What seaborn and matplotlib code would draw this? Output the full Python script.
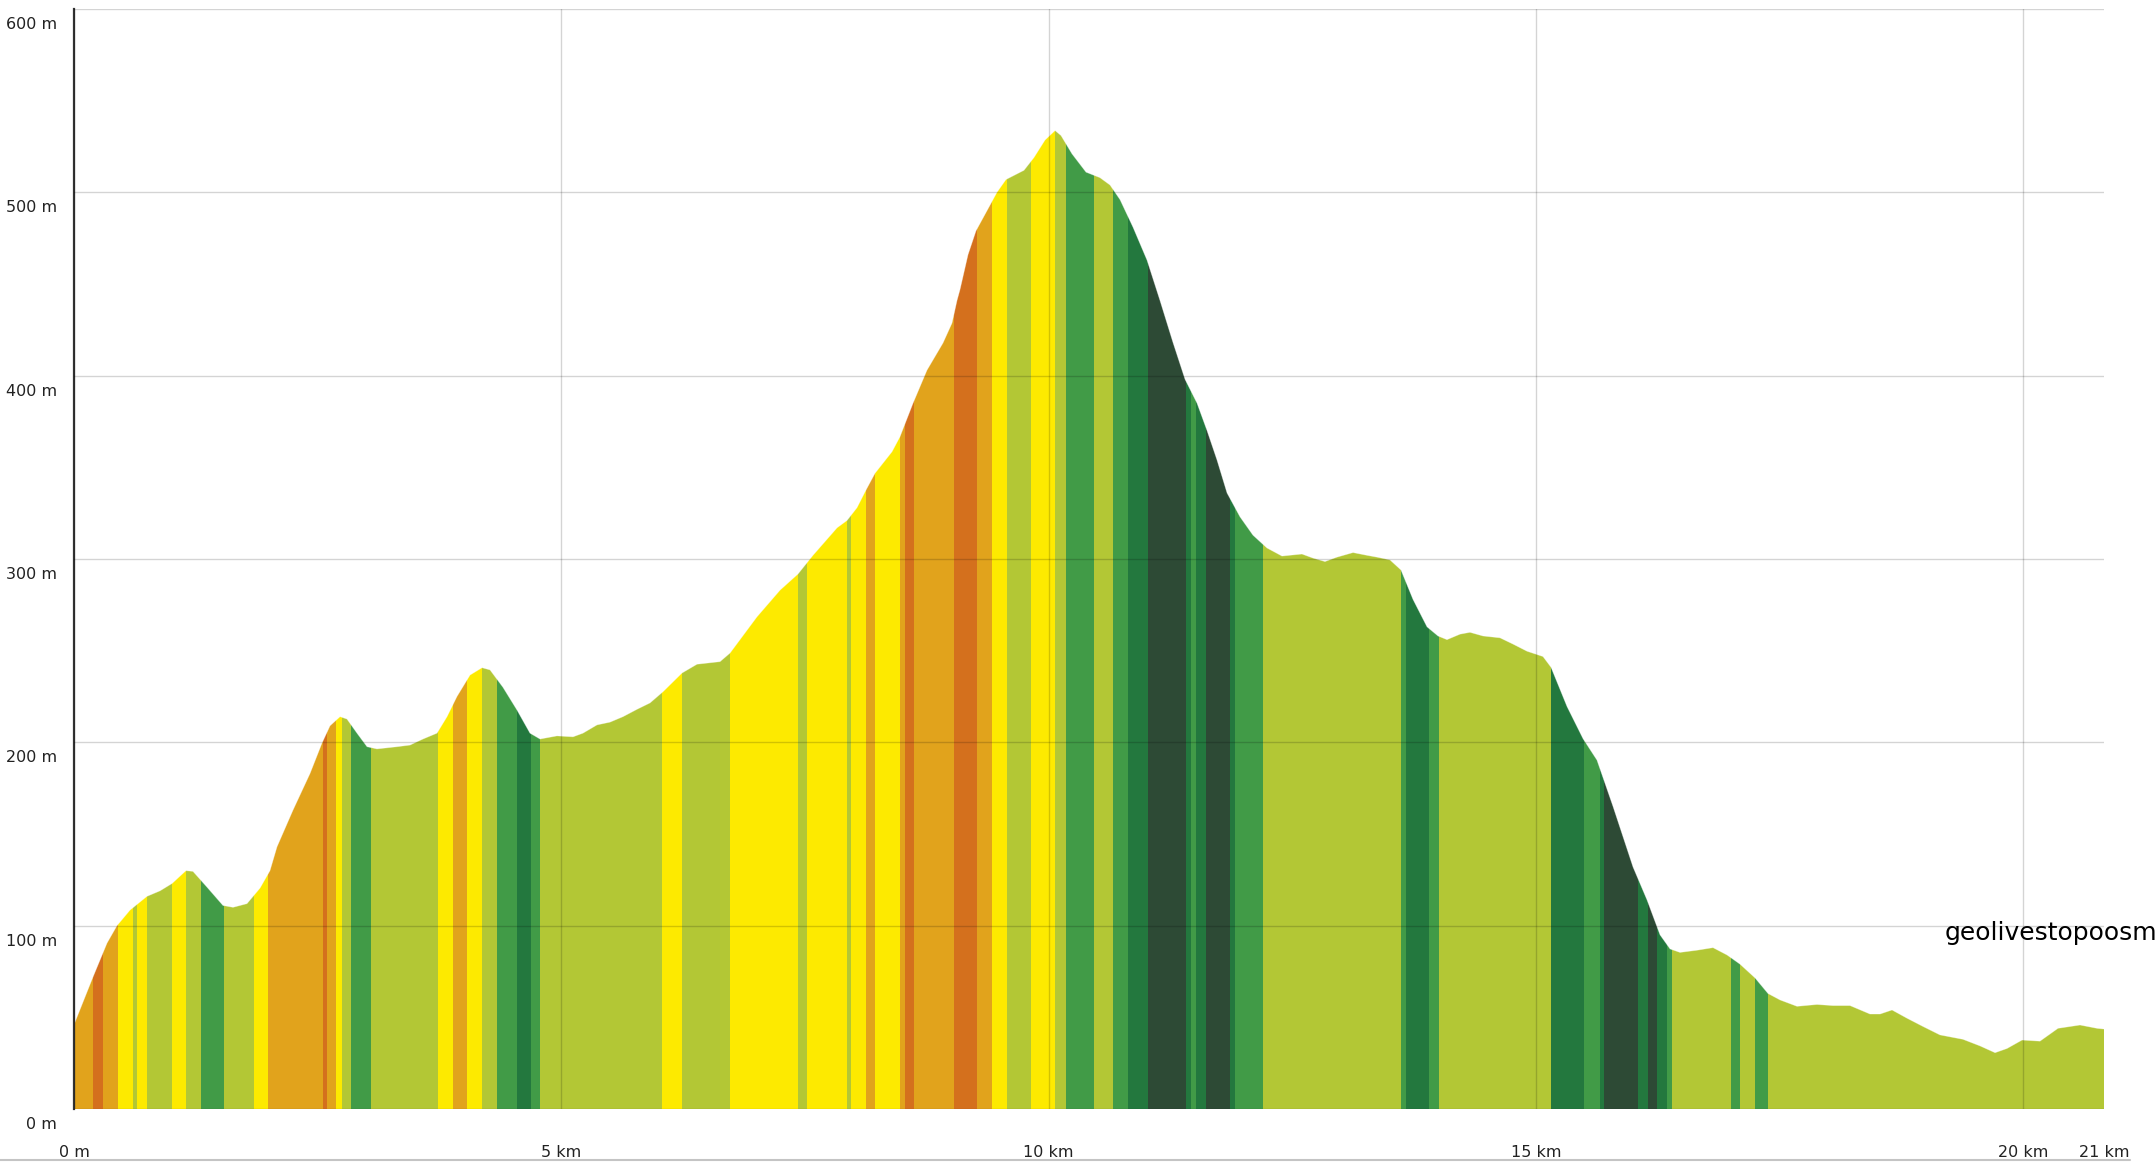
import matplotlib
matplotlib.use("Agg")
import matplotlib.pyplot as plt
from matplotlib.lines import Line2D
from matplotlib.transforms import ScaledTranslation
import seaborn as sns
import pandas as pd

# elevation profile (km, m)
dist_km = [0.00, 0.195, 0.339, 0.441, 0.575, 0.749, 0.883, 1.006, 1.149, 1.221,
           1.365, 1.529, 1.632, 1.775, 1.909, 2.011, 2.083, 2.247, 2.422, 2.545,
           2.627, 2.730, 2.801, 2.904, 3.007, 3.109, 3.315, 3.448, 3.581, 3.725,
           3.828, 3.930, 4.064, 4.187, 4.269, 4.402, 4.546, 4.679, 4.782, 4.956,
           5.121, 5.223, 5.367, 5.500, 5.634, 5.777, 5.911, 6.044, 6.239, 6.393,
           6.629, 6.732, 7.009, 7.245, 7.429, 7.583, 7.830, 7.932, 8.035, 8.127,
           8.220, 8.394, 8.476, 8.610, 8.753, 8.917, 9.010, 9.061, 9.092, 9.174,
           9.256, 9.369, 9.471, 9.564, 9.748, 9.851, 9.964, 10.067, 10.128, 10.241,
           10.385, 10.528, 10.631, 10.734, 10.867, 11.011, 11.144, 11.278, 11.401, 11.524,
           11.627, 11.729, 11.832, 11.965, 12.098, 12.242, 12.396, 12.601, 12.714, 12.837,
           12.960, 13.125, 13.268, 13.371, 13.504, 13.617, 13.740, 13.884, 13.997, 14.089,
           14.223, 14.325, 14.459, 14.633, 14.766, 14.910, 15.074, 15.156, 15.321, 15.485,
           15.628, 15.793, 15.998, 16.142, 16.275, 16.378, 16.480, 16.655, 16.819, 16.963,
           17.096, 17.250, 17.383, 17.506, 17.681, 17.886, 18.050, 18.225, 18.430, 18.533,
           18.656, 18.810, 18.974, 19.148, 19.384, 19.559, 19.713, 19.836, 19.990, 20.174,
           20.359, 20.585, 20.759, 20.831]
elev_m = [46, 72, 90.5, 100, 108.5, 116, 119, 123, 130, 129.6,
          121, 111, 110, 112, 120.5, 130, 143, 163, 183, 199.6,
          209, 214, 212.7, 205, 197.6, 196.4, 197.6, 198.5, 201.8, 205,
          214, 225, 236.7, 240.7, 239.5, 230, 217.6, 205, 201.8, 203.5,
          203, 205, 209.5, 211, 214, 218, 221.5, 227.6, 237.8, 242.6,
          244, 248.7, 268.5, 283, 291.8, 302, 317, 321, 328, 337.6,
          346.8, 358.5, 366.7, 385, 403, 417.8, 428.7, 441, 447, 466,
          479, 490, 500, 507, 512, 519, 528.5, 533.7, 531, 521,
          511, 508, 504, 496, 481, 463, 441, 418, 398, 385,
          370, 354, 336, 323, 313, 306, 301.6, 302.7, 300.5, 298.6,
          301, 303.5, 302, 301, 299.5, 294, 278, 263, 258, 256,
          259, 260, 258, 257, 253.6, 249.7, 246.8, 241, 219.5, 202,
          190.3, 165, 132, 114, 95, 87.3, 85.4, 86.6, 88, 84,
          79, 71.5, 63, 59.5, 56, 57, 56.4, 56.4, 51.8, 51.8,
          54, 49.5, 45, 40.4, 38, 34.4, 30.7, 33, 37.6, 37,
          44, 45.8, 44, 43.6]

# slope bands: edges in km and the slope class of each band
band_edges_km = [0.00, 0.195, 0.298, 0.452, 0.605, 0.646, 0.749, 1.006, 1.149, 1.303,
                 1.539, 1.847, 1.991, 2.555, 2.596, 2.689, 2.750, 2.843, 3.048, 3.735,
                 3.889, 4.033, 4.187, 4.341, 4.546, 4.690, 4.782, 6.034, 6.239, 6.732,
                 7.429, 7.522, 7.932, 7.973, 8.127, 8.220, 8.476, 8.527, 8.620, 9.030,
                 9.266, 9.420, 9.574, 9.820, 10.067, 10.180, 10.467, 10.662, 10.816, 11.021,
                 11.411, 11.462, 11.514, 11.616, 11.863, 11.914, 12.201, 13.617, 13.669, 13.905,
                 14.007, 15.156, 15.495, 15.659, 15.700, 16.049, 16.152, 16.244, 16.347, 16.398,
                 17.004, 17.096, 17.250, 17.383, 20.831]
band_class = ["O", "R", "O", "Y", "L", "Y", "L", "Y", "L", "G",
              "L", "Y", "O", "R", "O", "Y", "L", "G", "L", "Y",
              "O", "Y", "L", "G", "D", "G", "L", "Y", "L", "Y",
              "L", "Y", "L", "Y", "O", "Y", "O", "R", "O", "R",
              "O", "Y", "L", "Y", "L", "G", "L", "G", "D", "K",
              "D", "G", "D", "K", "D", "G", "L", "G", "D", "G",
              "L", "D", "G", "D", "K", "D", "K", "D", "G", "L",
              "G", "L", "G", "L"]

slope_colors = {"R": "#d4701d", "O": "#e1a31c", "Y": "#fdea00", "L": "#b3c735",
                "G": "#419b47", "D": "#23783e", "K": "#2d4a35"}

x_ticks = [0, 5, 10, 15, 20, 20.831]
x_labels = ["0 m", "5 km", "10 km", "15 km", "20 km", "21 km"]
y_ticks = [0, 100, 200, 300, 400, 500, 600]
y_labels = ["0 m", "100 m", "200 m", "300 m", "400 m", "500 m", "600 m"]

profile = pd.DataFrame({"dist": dist_km, "elev": elev_m})
bands = pd.DataFrame({"start": band_edges_km[:-1], "end": band_edges_km[1:], "cls": band_class})
bands["width"] = bands["end"] - bands["start"]

sns.set_theme(style="white")
plt.rcParams["font.family"] = ["DejaVu Sans"]

fig = plt.figure(figsize=(21.56, 11.71), dpi=100)
ax = fig.add_axes([74 / 2156, 1 - 1109 / 1171, 2030 / 2156, 1100 / 1171])

# area under the profile, used as clip for the coloured slope bands
area = ax.fill_between(profile["dist"], profile["elev"], 0, color="none", linewidth=0)
clip = area.get_paths()[0]

bars = ax.bar(bands["start"], 600, width=bands["width"], align="edge",
              color=[slope_colors[c] for c in bands["cls"]], linewidth=0, zorder=1)
for b in bars:
    b.set_clip_path(clip, ax.transData)

sns.lineplot(data=profile, x="dist", y="elev", ax=ax, color="white", lw=0.6, alpha=0.35, zorder=1.5)

ax.set_xlim(0, 20.831)
ax.set_ylim(0, 600)
ax.set_xticks(x_ticks)
ax.set_xticklabels(x_labels)
ax.set_yticks(y_ticks)
ax.set_yticklabels(y_labels)
ax.set_xlabel("")
ax.set_ylabel("")

ax.set_axisbelow(False)
ax.grid(True, color="black", alpha=0.17, linewidth=1.0)
ax.xaxis.get_gridlines()[-1].set_visible(False)

for s in ["top", "right", "bottom"]:
    ax.spines[s].set_visible(False)
ax.spines["left"].set_color("#333333")
ax.spines["left"].set_linewidth(1.6)

ax.tick_params(axis="y", length=2, width=1, color="#333333", pad=10, labelsize=11.5, labelcolor="#222222")
ax.tick_params(axis="x", length=0, pad=26, labelsize=11.5, labelcolor="#222222")

# y labels sit a little below their grid line
for lab in ax.get_yticklabels():
    lab.set_transform(lab.get_transform() + ScaledTranslation(0, -0.14, fig.dpi_scale_trans))

ax.text(19.2, 92, "geolivestopoosm", fontsize=18, color="black", va="baseline", clip_on=False)

fig.add_artist(Line2D([0, 2130 / 2156], [1 - 1160 / 1171, 1 - 1160 / 1171],
                      transform=fig.transFigure, color="#c4c4c4", lw=1.5))

fig.savefig("out.png", dpi=100)
